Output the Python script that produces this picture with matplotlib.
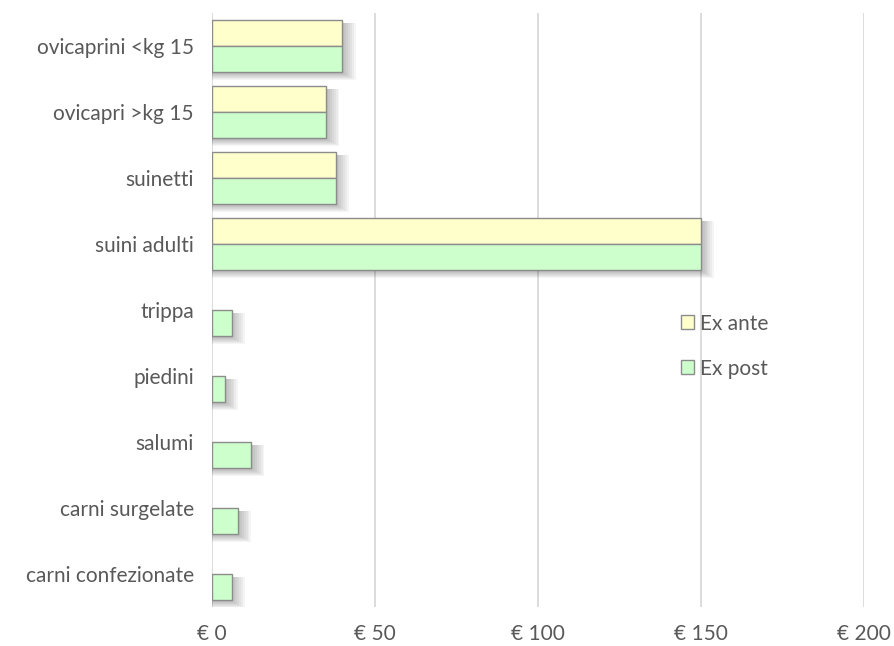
import matplotlib
matplotlib.use("Agg")
import matplotlib.pyplot as plt
import numpy as np
from matplotlib.patches import Patch

categories = ["ovicaprini <kg 15", "ovicapri >kg 15", "suinetti", "suini adulti",
              "trippa", "piedini", "salumi", "carni surgelate", "carni confezionate"]
ex_ante = [40, 35, 38, 150, 0, 0, 0, 0, 0]
ex_post = [40, 35, 38, 150, 6, 4, 12, 8, 6]
xticks = [0, 50, 100, 150, 200]

YELLOW = "#FFFFCC"
GREEN = "#CCFFCC"
EDGE = "#8c8c8c"
TXT = "#595959"

plt.rcParams["font.family"] = ["Lato", "DejaVu Sans"]

fig = plt.figure(figsize=(8.94, 6.46), dpi=100)
ax = fig.add_axes([212 / 894, 1 - 607 / 646, 652 / 894, 594 / 646])

y = np.arange(len(categories))
h = 0.39


def shadow(ax, width, ycen, height):
    # soft drop shadow, offset right and down
    for i in range(7):
        d = 0.5 + i * 0.6
        ax.barh(ycen + 0.04 + i * 0.007, width + d, height + i * 0.012,
                color="black", alpha=0.04, lw=0, zorder=2)


for yi, va, vp in zip(y, ex_ante, ex_post):
    if va > 0:
        shadow(ax, max(va, vp), yi, h * 2)
    else:
        shadow(ax, vp, yi + h / 2, h)

ya = [yi for yi, v in zip(y, ex_ante) if v > 0]
va = [v for v in ex_ante if v > 0]
ax.barh(np.array(ya) - h / 2, va, h, color=YELLOW, edgecolor=EDGE, lw=1, zorder=3)
ax.barh(y + h / 2, ex_post, h, color=GREEN, edgecolor=EDGE, lw=1, zorder=3)

ax.set_xlim(0, 200)
ax.set_ylim(len(categories) - 0.5, -0.5)
ax.set_xticks(xticks)
ax.set_xticklabels([f"€ {v}" for v in xticks])
ax.set_yticks(y)
ax.set_yticklabels(categories)
ax.tick_params(length=0, labelsize=15, colors=TXT)
ax.tick_params(axis="y", pad=13)
ax.tick_params(axis="x", pad=12)
ax.xaxis.grid(True, color="#d9d9d9", lw=1.3, zorder=0)
ax.set_axisbelow(True)
for s in ax.spines.values():
    s.set_visible(False)

handles = [Patch(facecolor=YELLOW, edgecolor=EDGE, label="Ex ante"),
           Patch(facecolor=GREEN, edgecolor=EDGE, label="Ex post")]
ax.legend(handles=handles, loc="center left", bbox_to_anchor=(0.69, 0.439),
          frameon=False, fontsize=15, labelcolor=TXT, handlelength=0.65,
          handleheight=0.65, handletextpad=0.3, labelspacing=1.2)

fig.savefig("out.png", dpi=100)
